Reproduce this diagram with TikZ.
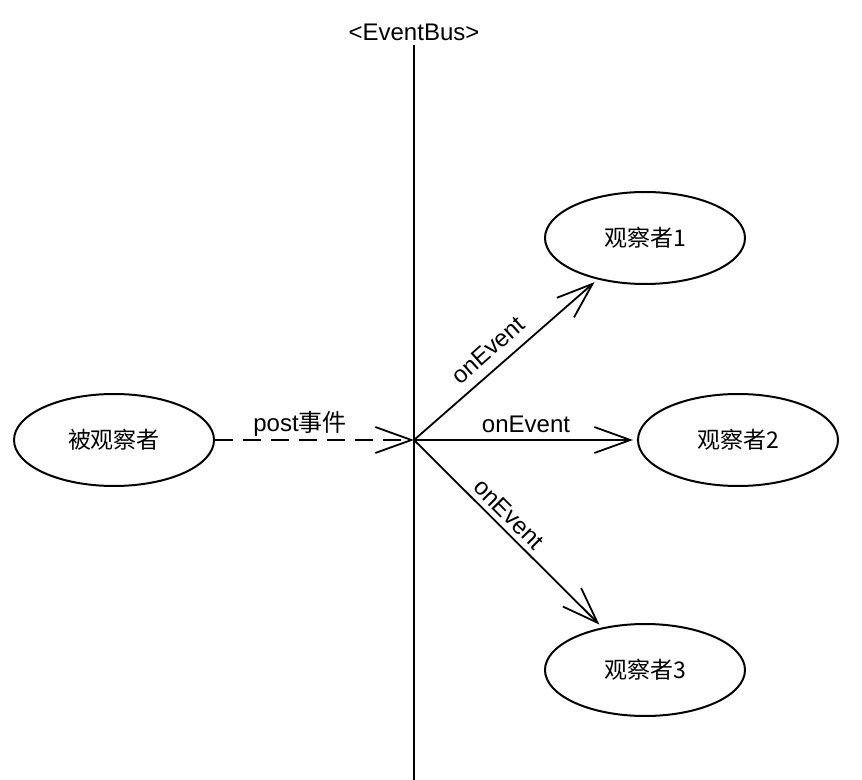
\documentclass[tikz,border=0pt]{standalone}
\usepackage{fontspec}
\setmainfont{Liberation Sans}
\newfontfamily\cjk{Noto Sans CJK SC}
\usetikzlibrary{shapes.geometric,arrows.meta}
\begin{document}
\begin{tikzpicture}[x=0.5pt,y=-0.5pt,
  role/.style={draw,ellipse,line width=1pt,minimum width=100pt,minimum height=46pt,inner sep=0pt,font=\fontsize{11.5pt}{13pt}\selectfont\cjk},
  lbl/.style={font=\fontsize{12pt}{14pt}\selectfont,inner sep=1pt},
  msg/.style={line width=0.9pt,shorten >=2pt,-{Straight Barb[length=18pt,width=13pt,line width=0.9pt]}}]
\useasboundingbox (0,0) rectangle (862,780);
\node[lbl] (bus) at (414,32) {<EventBus>};
\coordinate (top) at (414,45);
\coordinate (bot) at (414,781);
\coordinate (hub) at (414,440);
\draw[line width=1pt] (top) -- (bot);
\node[role] (src) at (114,440) {被观察者};
\node[role] (o1) at (645,238) {观察者1};
\node[role] (o2) at (738,440) {观察者2};
\node[role] (o3) at (645,670) {观察者3};
\draw[msg,shorten >=0pt,dash pattern=on 9pt off 5pt] (src) -- (hub);
\draw[msg] (hub) -- (o1);
\draw[msg] (hub) -- (o2);
\draw[msg] (hub) -- (o3);
\node[lbl] (lp) at (300,424) {post{\cjk 事件}};
\node[lbl] (l2) at (526,424) {onEvent};
\node[lbl,rotate=41.5] (l1) at (488,350) {onEvent};
\node[lbl,rotate=-45] (l3) at (509,514) {onEvent};
\end{tikzpicture}
\end{document}
